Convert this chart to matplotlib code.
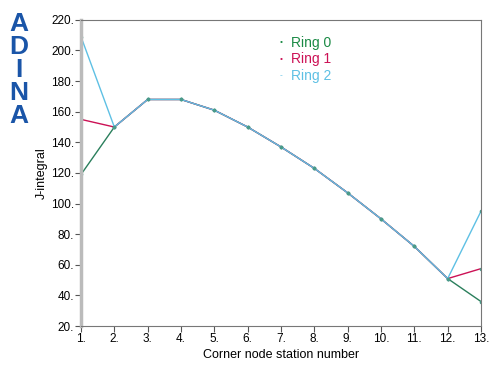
import numpy as np
import matplotlib.pyplot as plt

plt.rcParams['font.family'] = ['Liberation Sans', 'DejaVu Sans']

stations = np.arange(1, 14)
ring0 = [119, 150, 168, 168, 161, 150, 137, 123, 107, 90, 72, 51, 36]
ring1 = [155, 150, 168, 168, 161, 150, 137, 123, 107, 90, 72, 51, 57.5]
ring2 = [209, 150, 168, 168, 161, 150, 137, 123, 107, 90, 72, 51, 95]

names = ['Ring 0', 'Ring 1', 'Ring 2']
colors = ['#1b8a45', '#cc1155', '#5ec0e4']
line_colors = ['#2a7f5c', '#cc1155', '#5ec0e4']

fig = plt.figure(figsize=(5, 3.68), dpi=100)
ax = fig.add_axes([0.162, 0.114, 0.8, 0.832])

for y, lc in zip([ring0, ring1, ring2], line_colors):
    ax.plot(stations, y, color=lc, lw=1.0, marker='o', ms=1.6, mfc='#4a9a8a', mec='#4a9a8a')

ax.set_xlim(1, 13)
ax.set_ylim(20, 220)
ax.set_xticks(stations)
ax.set_xticklabels(['%d.' % s for s in stations])
yt = np.arange(20, 221, 20)
ax.set_yticks(yt)
ax.set_yticklabels(['%d.' % v for v in yt])
ax.tick_params(labelsize=8.5, length=4, width=0.8, color='#555555', pad=1)

for side in ['top', 'right', 'bottom']:
    ax.spines[side].set_color('#777777')
    ax.spines[side].set_linewidth(0.8)
ax.spines['left'].set_color('#bbbbbb')
ax.spines['left'].set_linewidth(2.5)

ax.set_xlabel('Corner node station number', fontsize=9, labelpad=3)
ax.set_ylabel('J-integral', fontsize=9, labelpad=2)

# legend as colored text
legend_y = [0.926, 0.871, 0.817]
for name, c, yy, sym in zip(names, colors, legend_y, ['•', '•', '-']):
    ax.text(0.5, yy, sym, color=c, fontsize=6,
            transform=ax.transAxes, va='center', ha='center')
    ax.text(0.525, yy, name, color=c, fontsize=10,
            transform=ax.transAxes, va='center')

# logo, one stacked text
fig.text(0.037, 1 - 70 / 368, '\n'.join('ADINA'), color='#1a55a8', fontsize=19,
         fontweight='bold', ha='center', va='center', multialignment='center',
         linespacing=0.96)

fig.savefig('out.png', dpi=100)
